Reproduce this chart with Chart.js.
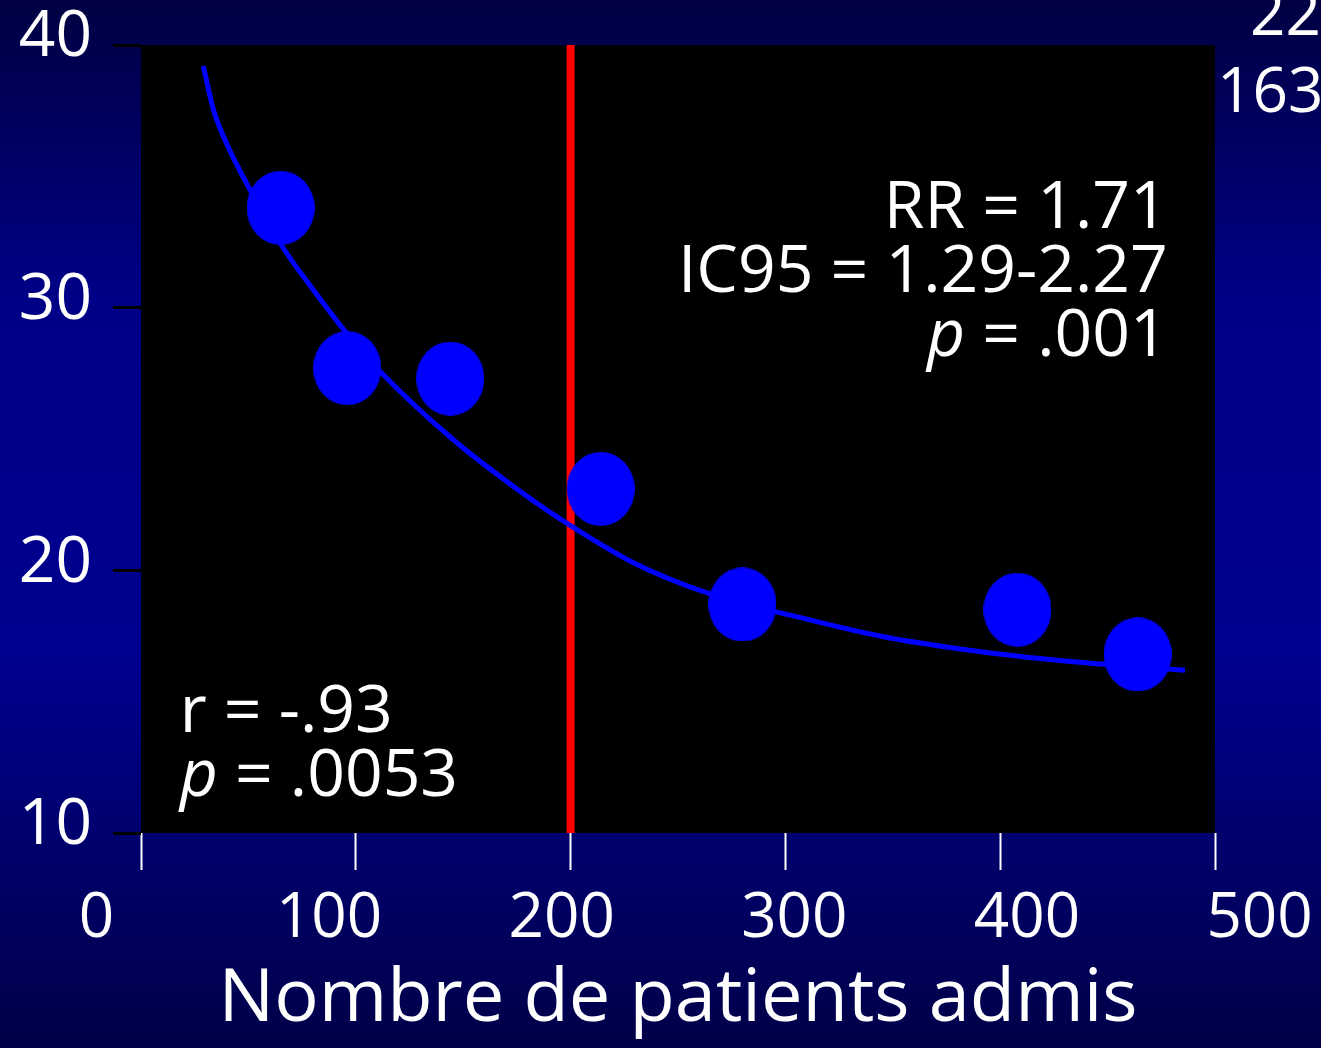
<!DOCTYPE html>
<html>
<head>
<meta charset="utf-8">
<script src="https://cdn.jsdelivr.net/npm/chart.js@4"></script>
<style>
  html, body { margin: 0; padding: 0; background: #000066; }
  canvas { display: block; }
</style>
</head>
<body>
<canvas id="graficoMortalite" width="1321" height="1048"></canvas>
<script>
// Mortalité (%) selon le nombre de patients admis
const patientsAdmis = [65, 96, 144, 214, 280, 408, 464];
const mortalite = [33.8, 27.7, 27.3, 23.1, 18.7, 18.5, 16.8];

// Courbe d'ajustement
const courbeX = [29, 33.5, 39, 52, 66, 80, 96, 111, 145, 175, 200, 229, 265, 307, 344, 391, 437, 486];
const courbeY = [39.2, 37.6, 36.4, 34.3, 32.3, 30.7, 29.0, 27.6, 25.0, 23.1, 21.7, 20.3, 19.1, 18.2, 17.5, 16.9, 16.5, 16.2];

// Seuil à 200 patients
const seuilX = [200, 200];
const seuilY = [40, 10];

const ticksX = [0, 100, 200, 300, 400, 500];
const ticksY = [10, 20, 30, 40];

const texteDroite = ['RR = 1.71', 'IC95 = 1.29-2.27', 'p = .001'];
const texteGauche = ['r = -.93', 'p = .0053'];
const texteCoin = ['22', '163'];

const police = "'Open Sans', 'DejaVu Sans', sans-serif";

// point en ellipse, comme sur la diapo
const pointEllipse = document.createElement('canvas');
pointEllipse.width = 68;
pointEllipse.height = 74;
const pc = pointEllipse.getContext('2d');
pc.fillStyle = '#0000ff';
pc.beginPath();
pc.ellipse(34, 37, 34, 37, 0, 0, Math.PI * 2);
pc.fill();

// dessine une ligne, avec "p" en italique si besoin
function ecrireLigne(ctx, ligne, x, y, align, taille) {
    let italique = '';
    let reste = ligne;
    if (ligne.startsWith('p ')) {
        italique = 'p';
        reste = ligne.slice(1);
    }
    ctx.font = 'italic ' + taille + 'px ' + police;
    const wi = ctx.measureText(italique).width;
    ctx.font = taille + 'px ' + police;
    const wr = ctx.measureText(reste).width;
    let x0 = align === 'right' ? x - wi - wr : x;
    ctx.textAlign = 'left';
    if (italique) {
        ctx.font = 'italic ' + taille + 'px ' + police;
        ctx.fillText(italique, x0, y);
    }
    ctx.font = taille + 'px ' + police;
    ctx.fillText(reste, x0 + wi, y);
}

const fondEtTextes = {
    id: 'fondEtTextes',
    beforeDraw(chart) {
        const { ctx, width, height, chartArea: a } = chart;
        const g = ctx.createLinearGradient(0, 0, 0, height);
        g.addColorStop(0, '#000042');
        g.addColorStop(0.28, '#000086');
        g.addColorStop(0.62, '#000090');
        g.addColorStop(1, '#000048');
        ctx.save();
        ctx.fillStyle = g;
        ctx.fillRect(0, 0, width, height);
        ctx.fillStyle = '#000000';
        ctx.fillRect(a.left, a.top, a.right - a.left, a.bottom - a.top);
        ctx.restore();
    },
    afterDraw(chart) {
        const { ctx, chartArea: a, scales: { x, y } } = chart;
        ctx.save();
        ctx.fillStyle = '#ffffff';
        ctx.textBaseline = 'middle';
        ctx.textAlign = 'center';
        ctx.font = '62px ' + police;
        // étiquettes de l'axe X, un peu étalées comme sur l'original
        const milieu = (a.left + a.right) / 2;
        ticksX.forEach(v => {
            const px = x.getPixelForValue(v);
            ctx.fillText(String(v), milieu + (px - milieu) * 1.083, a.bottom + 86);
        });

        ctx.textBaseline = 'alphabetic';
        const xd = x.getPixelForValue(478);
        const yd = y.getPixelForValue(33.03);
        texteDroite.forEach((l, i) => ecrireLigne(ctx, l, xd, yd + i * 64, 'right', 66));

        const xg = x.getPixelForValue(18);
        const yg = y.getPixelForValue(13.85);
        texteGauche.forEach((l, i) => ecrireLigne(ctx, l, xg, yg + i * 64, 'left', 66));

        // restes du tableau voisin, coupés au bord
        ctx.font = '62px ' + police;
        ctx.textAlign = 'left';
        ctx.fillText(texteCoin[0], a.right + 35, 35);
        ctx.fillText(texteCoin[1], a.right + 2, 112);
        ctx.restore();
    }
};

const ctxMortalite = document.getElementById('graficoMortalite').getContext('2d');
new Chart(ctxMortalite, {
    type: 'scatter',
    data: {
        datasets: [{
            label: 'Patients',
            data: patientsAdmis.map((v, i) => ({ x: v, y: mortalite[i] })),
            pointStyle: pointEllipse,
            pointRadius: 34,
            pointHoverRadius: 34,
            backgroundColor: '#0000ff',
            borderColor: '#0000ff',
            order: 1
        }, {
            type: 'line',
            label: 'Ajustement',
            data: courbeX.map((v, i) => ({ x: v, y: courbeY[i] })),
            borderColor: '#0000ff',
            borderWidth: 5,
            pointRadius: 0,
            fill: false,
            cubicInterpolationMode: 'monotone',
            order: 2
        }, {
            type: 'line',
            label: 'Seuil',
            data: seuilX.map((v, i) => ({ x: v, y: seuilY[i] })),
            borderColor: '#ff0000',
            borderWidth: 8,
            pointRadius: 0,
            fill: false,
            order: 3
        }]
    },
    options: {
        responsive: false,
        animation: false,
        layout: { padding: { top: 45, right: 106, left: 0, bottom: 0 } },
        plugins: {
            legend: { display: false },
            tooltip: { enabled: false }
        },
        scales: {
            x: {
                type: 'linear',
                min: 0,
                max: 500,
                afterBuildTicks: s => { s.ticks = ticksX.map(v => ({ value: v })); },
                grid: {
                    drawOnChartArea: false,
                    drawTicks: true,
                    tickLength: 37,
                    tickColor: '#ffffff',
                    tickWidth: 2
                },
                border: { display: false },
                ticks: { display: false },
                title: {
                    display: true,
                    text: 'Nombre de patients admis',
                    color: '#ffffff',
                    font: { family: police, size: 74 },
                    padding: { top: 0, bottom: 4 }
                },
                afterFit: s => {
                    s.height = 215;
                    s.paddingLeft = 0;
                    s.paddingRight = 0;
                }
            },
            y: {
                min: 10,
                max: 40,
                afterBuildTicks: s => { s.ticks = ticksY.map(v => ({ value: v })); },
                grid: {
                    drawOnChartArea: false,
                    tickLength: 28,
                    tickColor: '#000000',
                    tickWidth: 3
                },
                border: { display: false },
                ticks: {
                    color: '#ffffff',
                    font: { family: police, size: 64 },
                    padding: 21,
                    labelOffset: -7
                },
                afterFit: s => {
                    s.width = 141;
                    s.paddingTop = 0;
                    s.paddingBottom = 0;
                }
            }
        }
    },
    plugins: [fondEtTextes]
});
</script>
</body>
</html>
